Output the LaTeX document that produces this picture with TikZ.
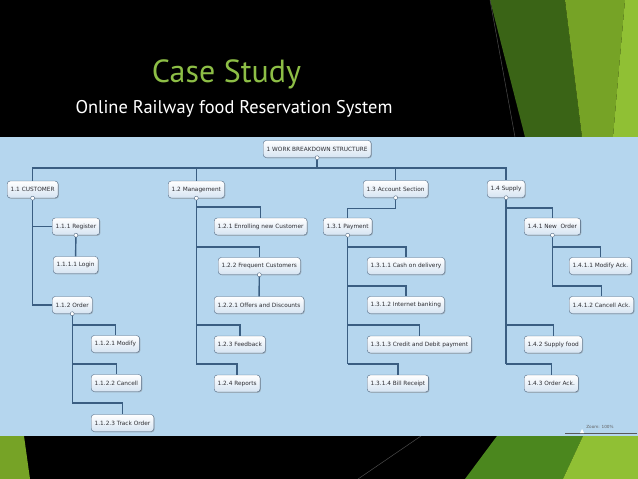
\documentclass[tikz,border=0pt]{standalone}
\usepackage{fontspec}
\setmainfont{PT Sans}
\newfontfamily\wbsfont{DejaVu Sans}
\usetikzlibrary{shadows}

\definecolor{panel}{RGB}{181,214,238}
\definecolor{wbsline}{RGB}{80,104,130}
\definecolor{wbsfill}{RGB}{214,228,242}
\definecolor{wbstext}{RGB}{45,45,50}
\definecolor{linkblue}{RGB}{58,94,130}
\definecolor{titlegreen}{RGB}{141,190,70}
\definecolor{darkgreen}{RGB}{58,100,22}
\definecolor{midgreen}{RGB}{118,163,38}
\definecolor{lightgreen}{RGB}{144,192,52}
\definecolor{leafgreen}{RGB}{75,135,30}

\begin{document}
\begin{tikzpicture}[x=1pt,y=-1pt,
wbs/.style={draw=wbsline, rounded corners=3pt, top color=white, bottom color=wbsfill,
  drop shadow={shadow xshift=0.8pt, shadow yshift=-0.8pt, opacity=0.45},
  font=\wbsfont\fontsize{5.8}{7}\selectfont, text=wbstext,
  minimum height=17pt, inner xsep=3.5pt, anchor=west},
link/.style={draw=linkblue, line width=1.4pt},
knob/.style={circle, draw=wbsline, fill=white, inner sep=0pt, minimum size=4pt}
]
\useasboundingbox (0,0) rectangle (638,479);
% slide background
\fill[black] (0,0) rectangle (638,479);
\fill[darkgreen] (490,0) -- (565,0) -- (582,137) -- (525,137) -- cycle;
\fill[midgreen] (565,0) -- (625,0) -- (613,137) -- (582,137) -- cycle;
\fill[lightgreen] (625,0) -- (638,0) -- (638,137) -- (613,137) -- cycle;
\draw[gray!60!black, line width=0.5pt] (490,0) -- (515,137);
\fill[midgreen] (0,436) -- (24,436) -- (30,479) -- (0,479) -- cycle;
\fill[leafgreen] (497,436) -- (583,436) -- (563,479) -- (465,479) -- cycle;
\fill[lightgreen] (583,436) -- (638,436) -- (638,479) -- (563,479) -- cycle;
\draw[gray!60!black, line width=0.5pt] (421,436) -- (358,479);

\node[font=\fontsize{32}{38}\selectfont, text=titlegreen, anchor=base] (title) at (226.5,82) {Case Study};
\node[font=\fontsize{18.4}{22}\selectfont, text=white, anchor=base] (subtitle) at (234,113) {Online Railway food Reservation System};

% chart panel
\fill[panel] (0,137) rectangle (638,436);

\node[wbs] (root) at (263,149) {1 WORK BREAKDOWN STRUCTURE};

\node[wbs] (cust) at (7,189.5) {1.1 CUSTOMER};
\node[wbs] (mgmt) at (168,189.5) {1.2 Management};
\node[wbs] (acct) at (363,189) {1.3 Account Section};
\node[wbs] (supply) at (487,189) {1.4 Supply};

\node[wbs] (reg) at (52,226.5) {1.1.1 Register};
\node[wbs] (login) at (53,265) {1.1.1.1 Login};
\node[wbs] (order) at (52,305) {1.1.2 Order};
\node[wbs] (modify) at (91,344) {1.1.2.1 Modify};
\node[wbs] (cancel) at (91,383) {1.1.2.2 Cancell};
\node[wbs] (track) at (91,423) {1.1.2.3 Track Order};

\node[wbs] (enrol) at (214,226.5) {1.2.1 Enrolling new Customer};
\node[wbs] (freq) at (218,266) {1.2.2 Frequent Customers};
\node[wbs] (offers) at (214,305) {1.2.2.1 Offers and Discounts};
\node[wbs] (feedback) at (214,344.5) {1.2.3 Feedback};
\node[wbs] (reports) at (214,383.5) {1.2.4 Reports};

\node[wbs] (pay) at (323,226.5) {1.3.1 Payment};
\node[wbs] (cash) at (367,266) {1.3.1.1 Cash on delivery};
\node[wbs] (netbank) at (367,305) {1.3.1.2 Internet banking};
\node[wbs] (card) at (367,344.5) {1.3.1.3 Credit and Debit payment};
\node[wbs] (bill) at (367,383.5) {1.3.1.4 Bill Receipt};

\node[wbs] (neworder) at (524,226.5) {1.4.1 New\ \ Order};
\node[wbs] (modack) at (569,266) {1.4.1.1 Modify Ack.};
\node[wbs] (cancack) at (569,305) {1.4.1.2 Cancell Ack.};
\node[wbs] (supfood) at (524,344.5) {1.4.2 Supply food};
\node[wbs] (ordack) at (524,383.5) {1.4.3 Order Ack.};

% connectors
\draw[link] (root.south) -- (root.south |- 0,168);
\draw[link] (cust.north) |- (supply.north |- 0,168) -- (supply.north);
\foreach \n in {mgmt,acct} \draw[link] (\n.north) -- (\n.north |- 0,168);

\draw[link] (cust.south) |- (reg.west);
\draw[link] (cust.south) |- (order.west);
\draw[link] (reg.south) -- (login.north);
\draw[link] (order.south) -- (order.south |- 0,403);
\foreach \kid/\yy in {modify/325, cancel/364, track/403}
  \draw[link] (order.south |- 0,\yy) -| (\kid.north);

\draw[link] (mgmt.south) -- (mgmt.south |- 0,364);
\foreach \kid/\yy in {enrol/207, freq/247, feedback/325, reports/364}
  \draw[link] (mgmt.south |- 0,\yy) -| (\kid.north);
\draw[link] (freq.south) -- (offers.north);

\draw[link] (acct.south) -- ++(0,11) -| (pay.north);
\draw[link] (pay.south) -- (pay.south |- 0,364);
\foreach \kid/\yy in {cash/247, netbank/286, card/325, bill/364}
  \draw[link] (pay.south |- 0,\yy) -| (\kid.north);

\draw[link] (supply.south) -- (supply.south |- 0,364);
\foreach \kid/\yy in {neworder/208, supfood/325, ordack/364}
  \draw[link] (supply.south |- 0,\yy) -| (\kid.north);
\draw[link] (neworder.south) -- (neworder.south |- 0,286);
\foreach \kid/\yy in {modack/247, cancack/286}
  \draw[link] (neworder.south |- 0,\yy) -| (\kid.north);

\foreach \n in {root,cust,mgmt,acct,supply,reg,order,freq,pay,neworder}
  \node[knob] (\n-knob) at (\n.south) {};

% zoom slider
\node[font=\wbsfont\fontsize{4.2}{5}\selectfont, text=gray!75!black] (zoomlbl) at (600,427) {Zoom: 100\%};
\draw[gray!70!black, line width=0.8pt] (565,433) -- (637,433);
\fill[white] (580,433) -- (582,429) -- (584,433) -- cycle;
\end{tikzpicture}
\end{document}
